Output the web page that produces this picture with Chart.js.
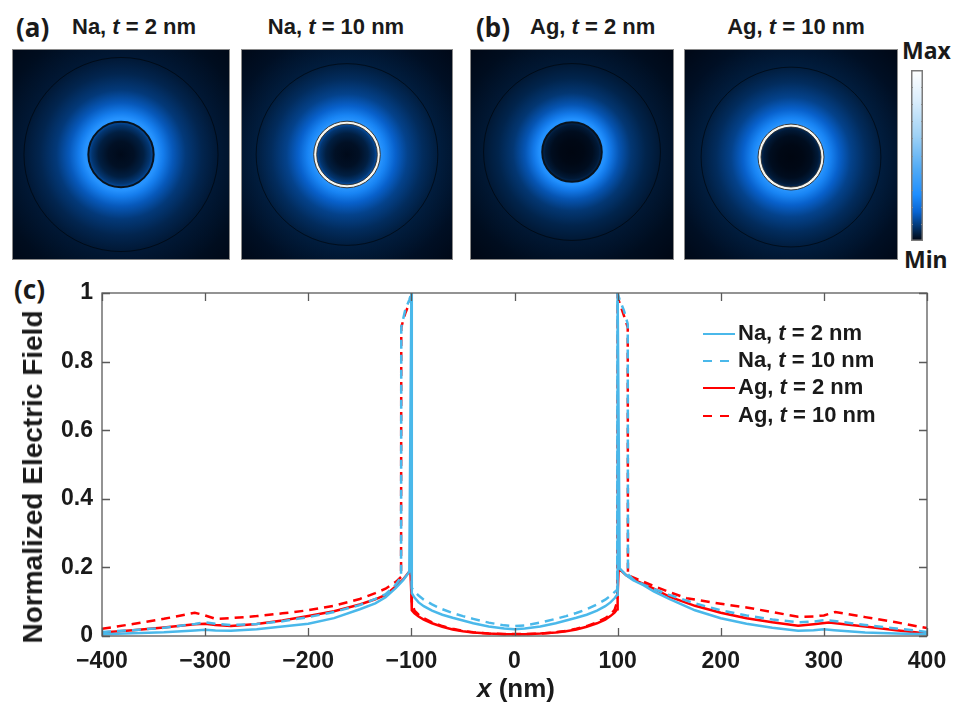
<!DOCTYPE html>
<html>
<head>
<meta charset="utf-8">
<script src="https://cdn.jsdelivr.net/npm/chart.js@4.4.1/dist/chart.umd.min.js"></script>
<style>
  html, body { margin: 0; padding: 0; background: #fff; }
  #page { position: relative; width: 966px; height: 704px; overflow: hidden;
          font-family: "Liberation Sans", Arial, sans-serif; color: #1a1a1a; }
  canvas { position: absolute; }
  .lbl { position: absolute; white-space: nowrap; font-weight: bold; line-height: 30px; height: 30px; }
  .tag { font-family: "Noto Sans", sans-serif; font-size: 26px; }
  .ttl { font-size: 22px; }
  .mid { transform: translateX(-50%); }
  .cb { font-family: "Noto Sans", sans-serif; font-size: 23px; }
  .leg { position: absolute; left: 703px; height: 26px; line-height: 26px; font-size: 22px; font-weight: bold; white-space: nowrap; }
  .leg span.s { display: inline-block; width: 32px; height: 2.5px; vertical-align: middle; margin-right: 3px; }
  #ytitle { position: absolute; left: 33px; top: 477px; font-size: 28px; font-weight: bold; white-space: nowrap;
            transform: translate(-50%, -50%) rotate(-90deg); }
</style>
</head>
<body>
<div id="page">
  <div class="lbl tag" style="left:16px;top:12px">(a)</div>
  <div class="lbl ttl" style="left:72px;top:12px">Na, <i>t</i> = 2 nm</div>
  <div class="lbl ttl mid" style="left:336px;top:12px">Na, <i>t</i> = 10 nm</div>
  <div class="lbl tag" style="left:476px;top:12px">(b)</div>
  <div class="lbl ttl" style="left:530px;top:12px">Ag, <i>t</i> = 2 nm</div>
  <div class="lbl ttl mid" style="left:796px;top:12px">Ag, <i>t</i> = 10 nm</div>
  <div class="lbl cb" style="left:902px;top:35px">Max</div>
  <div class="lbl cb" style="left:904px;top:244px">Min</div>
  <div class="lbl tag" style="left:14px;top:274px">(c)</div>

  <canvas id="map0" width="218" height="211" style="left:12px;top:49px"></canvas>
  <canvas id="map1" width="212" height="211" style="left:241px;top:49px"></canvas>
  <canvas id="map2" width="204" height="211" style="left:470px;top:49px"></canvas>
  <canvas id="map3" width="214" height="211" style="left:684px;top:49px"></canvas>
  <canvas id="cbar" width="12" height="171" style="left:911px;top:70px"></canvas>
  <canvas id="profile" width="966" height="434" style="left:0;top:270px"></canvas>

  <div id="ytitle">Normalized Electric Field</div>
  <div class="lbl mid" style="left:516px;top:673px;font-size:26px"><i>x</i> (nm)</div>

  <div class="leg" style="top:320px"><span class="s" style="background:#4AB8EA"></span>Na, <i>t</i> = 2 nm</div>
  <div class="leg" style="top:347px"><span class="s" style="background:repeating-linear-gradient(to right,#4AB8EA 0 9px,transparent 9px 17px)"></span>Na, <i>t</i> = 10 nm</div>
  <div class="leg" style="top:374px"><span class="s" style="background:#FF0000"></span>Ag, <i>t</i> = 2 nm</div>
  <div class="leg" style="top:402px"><span class="s" style="background:repeating-linear-gradient(to right,#FF0000 0 9px,transparent 9px 17px)"></span>Ag, <i>t</i> = 10 nm</div>
</div>

<script>
// ---- panel (c): field profiles along x (nm) ----
const naThinX = [-400, -370, -340, -310, -300, -290, -275, -250, -225, -200, -175, -150, -135, -125, -115, -108, -102, -100, -99.6,
  -97, -93, -88, -80, -70, -60, -50, -40, -25, -10, 0, 10, 25, 40, 50, 60, 70, 80, 88, 93, 97, 99.6,
  100, 102, 108, 115, 125, 135, 150, 175, 200, 225, 250, 275, 290, 300, 310, 340, 370, 400];
const naThinY = [0.005, 0.008, 0.011, 0.016, 0.018, 0.016, 0.015, 0.02, 0.028, 0.036, 0.052, 0.078, 0.095, 0.113, 0.14, 0.163, 0.187, 1.0, 0.125,
  0.112, 0.098, 0.087, 0.074, 0.062, 0.053, 0.045, 0.037, 0.028, 0.022, 0.02, 0.022, 0.028, 0.037, 0.045, 0.053, 0.062, 0.074, 0.087, 0.098, 0.11, 0.12,
  1.0, 0.197, 0.178, 0.163, 0.148, 0.13, 0.108, 0.075, 0.052, 0.036, 0.024, 0.015, 0.017, 0.02, 0.017, 0.01, 0.007, 0.005];

const naThickX = [-400, -370, -340, -310, -300, -290, -275, -250, -225, -200, -175, -150, -135, -125, -115, -110, -109.8, -106, -102, -100, -99.6,
  -97, -93, -88, -80, -70, -60, -50, -40, -25, -10, 0, 10, 25, 40, 50, 60, 70, 80, 88, 93, 97, 99.6,
  100, 102, 106, 109.8, 110, 115, 125, 135, 150, 175, 200, 225, 250, 275, 290, 300, 310, 340, 370, 400];
const naThickY = [0.012, 0.017, 0.024, 0.035, 0.04, 0.036, 0.032, 0.035, 0.043, 0.055, 0.07, 0.09, 0.108, 0.122, 0.15, 0.172, 0.9, 0.95, 0.98, 1.0, 0.14,
  0.13, 0.118, 0.106, 0.092, 0.078, 0.067, 0.058, 0.05, 0.039, 0.031, 0.029, 0.031, 0.039, 0.05, 0.058, 0.067, 0.078, 0.092, 0.106, 0.117, 0.128, 0.135,
  1.0, 0.98, 0.95, 0.91, 0.18, 0.165, 0.15, 0.137, 0.12, 0.095, 0.075, 0.06, 0.048, 0.04, 0.042, 0.046, 0.044, 0.032, 0.022, 0.012];

const agThinX = [-400, -370, -340, -310, -300, -290, -275, -250, -225, -200, -175, -150, -135, -125, -115, -108, -101, -100, -99.6,
  -97, -93, -88, -80, -70, -60, -50, -40, -25, -10, 0, 10, 25, 40, 50, 60, 70, 80, 88, 93, 97, 99.6,
  100, 101, 108, 115, 125, 135, 150, 175, 200, 225, 250, 275, 290, 305, 320, 340, 370, 400];
const agThinY = [0.01, 0.017, 0.025, 0.034, 0.036, 0.032, 0.029, 0.035, 0.045, 0.058, 0.072, 0.092, 0.107, 0.12, 0.145, 0.165, 0.192, 0.12, 0.075,
  0.066, 0.057, 0.048, 0.037, 0.027, 0.019, 0.014, 0.01, 0.007, 0.005, 0.005, 0.005, 0.007, 0.01, 0.014, 0.019, 0.027, 0.037, 0.048, 0.058, 0.068, 0.078,
  0.12, 0.197, 0.178, 0.165, 0.152, 0.138, 0.115, 0.088, 0.068, 0.052, 0.04, 0.03, 0.034, 0.039, 0.034, 0.028, 0.017, 0.007];

const agThickX = [-400, -370, -340, -310, -300, -290, -275, -250, -225, -200, -175, -150, -135, -125, -115, -110, -109.8, -106, -102, -100, -99.6,
  -97, -93, -88, -80, -70, -60, -50, -40, -25, -10, 0, 10, 25, 40, 50, 60, 70, 80, 88, 93, 97, 99.6,
  100, 102, 106, 109.8, 110, 125, 150, 167, 200, 225, 250, 275, 290, 300, 311, 340, 370, 400];
const agThickY = [0.021, 0.035, 0.05, 0.068, 0.06, 0.05, 0.052, 0.058, 0.066, 0.075, 0.088, 0.108, 0.125, 0.138, 0.158, 0.172, 0.9, 0.94, 0.97, 0.985, 0.1,
  0.074, 0.062, 0.052, 0.04, 0.029, 0.021, 0.015, 0.011, 0.007, 0.006, 0.006, 0.006, 0.007, 0.011, 0.015, 0.021, 0.029, 0.04, 0.052, 0.063, 0.076, 0.1,
  0.99, 0.97, 0.935, 0.9, 0.177, 0.158, 0.128, 0.11, 0.094, 0.083, 0.07, 0.056, 0.057, 0.06, 0.07, 0.055, 0.04, 0.023];

const xTicks = [-400, -300, -200, -100, 0, 100, 200, 300, 400];
const yTicks = [0, 0.2, 0.4, 0.6, 0.8, 1];

// ---- panels (a),(b): radial field level (colormap units) vs radius in nm ----
const mapRadii = [0, 40, 70, 90, 99, 101, 112, 130, 160, 200, 250, 300, 400, 500];
const naThinMap  = [0.01, 0.02, 0.045, 0.085, 0.12, 0.31, 0.29, 0.23, 0.15, 0.092, 0.056, 0.034, 0.015, 0.005];
const naThickMap = [0.01, 0.02, 0.045, 0.085, 0.13, 0.31, 0.3, 0.245, 0.165, 0.108, 0.068, 0.042, 0.019, 0.007];
const agThinMap  = [0.003, 0.006, 0.015, 0.035, 0.06, 0.3, 0.28, 0.22, 0.143, 0.087, 0.054, 0.033, 0.015, 0.005];
const agThickMap = [0.003, 0.006, 0.015, 0.035, 0.06, 0.31, 0.3, 0.245, 0.165, 0.108, 0.068, 0.042, 0.019, 0.007];
const coreRadius = 100;
const shellThickness = [2, 10, 2, 10];
const boundaryRadius = 300;

// colormap (Min -> Max)
const cmapStops = [0, 0.04, 0.1, 0.17, 0.27, 0.42, 0.62, 0.82, 1];
const cmapColors = [[0, 4, 14], [1, 28, 60], [3, 62, 130], [8, 100, 210], [30, 142, 255],
  [80, 170, 245], [160, 210, 245], [218, 237, 252], [255, 255, 255]];

const BLUE = '#4AB8EA';
const RED = '#FF0000';
const INK = '#1a1a1a';

function rgb(c) { return `rgb(${Math.round(c[0])},${Math.round(c[1])},${Math.round(c[2])})`; }
function cmap(v) {
  v = Math.max(0, Math.min(1, v));
  let i = 0;
  while (i < cmapStops.length - 2 && v > cmapStops[i + 1]) i++;
  const t = (v - cmapStops[i]) / (cmapStops[i + 1] - cmapStops[i]);
  const a = cmapColors[i], b = cmapColors[i + 1];
  return rgb([a[0] + (b[0] - a[0]) * t, a[1] + (b[1] - a[1]) * t, a[2] + (b[2] - a[2]) * t]);
}

// draws the radial field image + material boundaries with the chart's scales
const fieldMapPlugin = {
  id: 'fieldMap',
  beforeDatasetsDraw(chart, args, opts) {
    const { ctx, chartArea: a, scales: { x, y } } = chart;
    const cx = x.getPixelForValue(0), cy = y.getPixelForValue(0);
    const px = nm => x.getPixelForValue(nm) - cx;
    const rEnd = mapRadii[mapRadii.length - 1];
    const g = ctx.createRadialGradient(cx, cy, 0, cx, cy, px(rEnd));
    mapRadii.forEach((r, i) => g.addColorStop(r / rEnd, cmap(opts.levels[i])));
    ctx.save();
    ctx.beginPath();
    ctx.rect(a.left, a.top, a.width, a.height);
    ctx.clip();
    ctx.fillStyle = g;
    ctx.fillRect(a.left, a.top, a.width, a.height);

    // outer simulation boundary
    ctx.beginPath();
    ctx.arc(cx, cy, px(boundaryRadius), 0, Math.PI * 2);
    ctx.strokeStyle = 'rgba(0,0,0,0.55)';
    ctx.lineWidth = 1;
    ctx.stroke();

    if (opts.shell > 5) {
      const r0 = px(coreRadius), r1 = px(coreRadius + opts.shell);
      ctx.beginPath();
      ctx.arc(cx, cy, (r0 + r1) / 2, 0, Math.PI * 2);
      ctx.strokeStyle = '#f6f5ee';
      ctx.lineWidth = r1 - r0;
      ctx.stroke();
      [r0, r1].forEach(r => {
        ctx.beginPath();
        ctx.arc(cx, cy, r, 0, Math.PI * 2);
        ctx.strokeStyle = '#2a2a2a';
        ctx.lineWidth = 0.9;
        ctx.stroke();
      });
    } else {
      ctx.beginPath();
      ctx.arc(cx, cy, px(coreRadius + opts.shell / 2), 0, Math.PI * 2);
      ctx.strokeStyle = '#08121c';
      ctx.lineWidth = 2;
      ctx.stroke();
    }
    ctx.restore();
    ctx.strokeStyle = '#8a8a8a';
    ctx.lineWidth = 1;
    ctx.strokeRect(a.left + 0.5, a.top + 0.5, a.width - 1, a.height - 1);
  }
};

const mapSpecs = [
  { id: 'map0', levels: naThinMap,  x: [-337, 337], y: [-326, 326] },
  { id: 'map1', levels: naThickMap, x: [-350, 350], y: [-348, 348] },
  { id: 'map2', levels: agThinMap,  x: [-346, 346], y: [-366, 349] },
  { id: 'map3', levels: agThickMap, x: [-357, 357], y: [-343, 360] }
];
mapSpecs.forEach((m, i) => {
  new Chart(document.getElementById(m.id), {
    type: 'scatter',
    data: { datasets: [{ data: [] }] },
    options: {
      responsive: false, animation: false, events: [],
      layout: { padding: 0 },
      plugins: { legend: { display: false }, tooltip: { enabled: false },
                 fieldMap: { levels: m.levels, shell: shellThickness[i] } },
      scales: {
        x: { type: 'linear', min: m.x[0], max: m.x[1], display: false },
        y: { type: 'linear', min: m.y[0], max: m.y[1], display: false }
      }
    },
    plugins: [fieldMapPlugin]
  });
});

// colour bar
const cbarPlugin = {
  id: 'cbarFrame',
  afterDraw(chart) {
    const { ctx, chartArea: a, scales: { y } } = chart;
    ctx.save();
    ctx.strokeStyle = '#9a9a9a';
    ctx.lineWidth = 1;
    for (let v = 0.1; v < 0.95; v += 0.1) {
      const yy = Math.round(y.getPixelForValue(v)) + 0.5;
      ctx.beginPath();
      ctx.moveTo(a.left, yy); ctx.lineTo(a.left + 2, yy);
      ctx.moveTo(a.right, yy); ctx.lineTo(a.right - 2, yy);
      ctx.stroke();
    }
    ctx.strokeStyle = '#7a7a7a';
    ctx.lineWidth = 1.5;
    ctx.strokeRect(a.left + 0.75, a.top + 0.75, a.width - 1.5, a.height - 1.5);
    ctx.restore();
  }
};
new Chart(document.getElementById('cbar'), {
  type: 'bar',
  data: { labels: [''], datasets: [{
    data: [1], borderWidth: 0, barPercentage: 1, categoryPercentage: 1,
    backgroundColor(c) {
      const a = c.chart.chartArea;
      if (!a) return '#000';
      const g = c.chart.ctx.createLinearGradient(0, a.bottom, 0, a.top);
      cmapStops.forEach((s, i) => g.addColorStop(s, rgb(cmapColors[i])));
      return g;
    }
  }] },
  options: {
    responsive: false, animation: false, events: [],
    layout: { padding: 0 },
    plugins: { legend: { display: false }, tooltip: { enabled: false } },
    scales: { x: { display: false }, y: { display: false, min: 0, max: 1 } }
  },
  plugins: [cbarPlugin]
});

// panel (c)
const boxPlugin = {
  id: 'matlabBox',
  afterDraw(chart) {
    const { ctx, chartArea: a, scales: { x, y } } = chart;
    ctx.save();
    ctx.strokeStyle = '#5a5a5a';
    ctx.lineWidth = 1.3;
    ctx.beginPath();
    xTicks.forEach(v => {
      const px = Math.round(x.getPixelForValue(v)) + 0.5;
      ctx.moveTo(px, a.bottom); ctx.lineTo(px, a.bottom - 8);
      ctx.moveTo(px, a.top); ctx.lineTo(px, a.top + 8);
    });
    yTicks.forEach(v => {
      const py = Math.round(y.getPixelForValue(v)) + 0.5;
      ctx.moveTo(a.left, py); ctx.lineTo(a.left + 8, py);
      ctx.moveTo(a.right, py); ctx.lineTo(a.right - 8, py);
    });
    ctx.stroke();
    ctx.strokeRect(a.left, a.top, a.width, a.height);
    ctx.restore();
  }
};

function series(label, xs, ys, color, dash) {
  return {
    label, data: xs.map((v, i) => ({ x: v, y: ys[i] })),
    showLine: true, borderColor: color, backgroundColor: color,
    borderWidth: 2.5, borderDash: dash, pointRadius: 0, tension: 0, fill: false
  };
}

const tickFont = { family: '"Liberation Sans", Arial, sans-serif', size: 23, weight: 'bold' };

// first dataset is drawn on top
new Chart(document.getElementById('profile'), {
  type: 'scatter',
  data: { datasets: [
    series('Na, t = 2 nm', naThinX, naThinY, BLUE, []),
    series('Na, t = 10 nm', naThickX, naThickY, BLUE, [9, 6]),
    series('Ag, t = 2 nm', agThinX, agThinY, RED, []),
    series('Ag, t = 10 nm', agThickX, agThickY, RED, [9, 6])
  ] },
  options: {
    responsive: false, animation: false, events: [],
    layout: { padding: { top: 23, right: 39, left: 0, bottom: 0 } },
    plugins: { legend: { display: false }, tooltip: { enabled: false } },
    scales: {
      x: {
        type: 'linear', min: -400, max: 400,
        afterFit(s) { s.height = 68; },
        afterBuildTicks(s) { s.ticks = xTicks.map(v => ({ value: v })); },
        grid: { display: false, drawTicks: false },
        border: { display: false },
        ticks: { font: tickFont, color: INK, padding: 12, maxRotation: 0,
                 callback: v => v < 0 ? '\u2212' + Math.abs(v) : String(v) }
      },
      y: {
        type: 'linear', min: 0, max: 1,
        afterFit(s) { s.width = 102; },
        afterBuildTicks(s) { s.ticks = yTicks.map(v => ({ value: v })); },
        grid: { display: false, drawTicks: false },
        border: { display: false },
        ticks: { font: tickFont, color: INK, padding: 9,
                 callback: v => (v === 0 || v === 1) ? String(v) : v.toFixed(1) }
      }
    }
  },
  plugins: [boxPlugin]
});
</script>
</body>
</html>
